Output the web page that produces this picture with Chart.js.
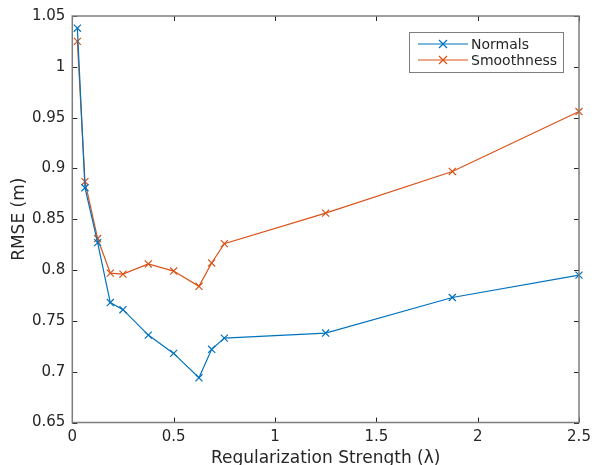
<!DOCTYPE html>
<html>
<head>
<meta charset="utf-8">
<script src="https://cdn.jsdelivr.net/npm/chart.js@4"></script>
<style>
  body { margin: 0; background: #fff; }
  #my_chart { display: block; }
</style>
</head>
<body>
<canvas id="my_chart" width="595" height="465"></canvas>
<script>
// regularization strengths
var lambda_values = [0.025, 0.0625, 0.125, 0.1875, 0.25, 0.375, 0.5, 0.625, 0.6875, 0.75, 1.25, 1.875, 2.5]
var normals_rmse = [1.038, 0.881, 0.827, 0.768, 0.761, 0.736, 0.718, 0.694, 0.722, 0.733, 0.738, 0.773, 0.795]
var smoothness_rmse = [1.025, 0.887, 0.831, 0.797, 0.796, 0.806, 0.799, 0.784, 0.807, 0.826, 0.856, 0.897, 0.956]
var series_labels = ['Normals', 'Smoothness']
var x_ticks = [0, 0.5, 1, 1.5, 2, 2.5]
var y_ticks = [0.65, 0.7, 0.75, 0.8, 0.85, 0.9, 0.95, 1, 1.05]

const BLUE = '#0072BD'
const ORANGE = '#D95319'
const FONT = "'DejaVu Sans', sans-serif"

function toPoints(xs, ys) {
  return xs.map((x, i) => ({x: x, y: ys[i]}))
}

function fmt(v) {
  return String(+v.toFixed(2))
}

// draws marker "x"
function drawCross(c, x, y, r) {
  c.beginPath()
  c.moveTo(x - r, y - r); c.lineTo(x + r, y + r)
  c.moveTo(x - r, y + r); c.lineTo(x + r, y - r)
  c.stroke()
}

// matlab-like box, inward ticks and legend
const matlabAxes = {
  id: 'matlabAxes',
  afterDraw(chart) {
    const c = chart.ctx
    const a = chart.chartArea
    const xs = chart.scales.x, ys = chart.scales.y
    const tl = 5
    c.save()
    c.strokeStyle = '#262626'
    c.lineWidth = 1
    x_ticks.forEach(v => {
      const px = Math.round(xs.getPixelForValue(v)) + 0.5
      c.beginPath()
      c.moveTo(px, a.bottom); c.lineTo(px, a.bottom - tl)
      c.moveTo(px, a.top); c.lineTo(px, a.top + tl)
      c.stroke()
    })
    y_ticks.forEach(v => {
      const py = Math.round(ys.getPixelForValue(v)) + 0.5
      c.beginPath()
      c.moveTo(a.left, py); c.lineTo(a.left + tl, py)
      c.moveTo(a.right, py); c.lineTo(a.right - tl, py)
      c.stroke()
    })
    c.strokeStyle = '#7d7d7d'
    c.lineWidth = 1.5
    c.strokeRect(a.left, a.top, a.right - a.left, a.bottom - a.top)

    // legend
    const lx = 409, ly = 32, lw = 154, lh = 40
    c.fillStyle = '#fff'
    c.fillRect(lx, ly, lw, lh)
    c.strokeStyle = '#7d7d7d'
    c.lineWidth = 1
    c.strokeRect(lx + 0.5, ly + 0.5, lw, lh)
    c.font = '14px ' + FONT
    c.textBaseline = 'middle'
    c.textAlign = 'left'
    chart.data.datasets.forEach((ds, i) => {
      const yy = ly + 12 + i * 16
      c.strokeStyle = ds.borderColor
      c.lineWidth = 1.2
      c.beginPath()
      c.moveTo(lx + 9, yy); c.lineTo(lx + 59, yy)
      c.stroke()
      drawCross(c, lx + 34, yy, 4)
      c.fillStyle = '#262626'
      c.fillText(ds.label, lx + 62, yy + 1)
    })
    c.restore()
  }
}

ctx = document.getElementById('my_chart').getContext('2d')
my_chart = new Chart(ctx, {
  type: 'scatter',
  data: {
    datasets: [
      {
        label: series_labels[0],
        data: toPoints(lambda_values, normals_rmse),
        borderColor: BLUE,
        backgroundColor: BLUE,
        showLine: true,
        borderWidth: 1.2,
        pointStyle: 'crossRot',
        pointRadius: 5,
        pointBorderWidth: 1.2,
        clip: false
      },
      {
        label: series_labels[1],
        data: toPoints(lambda_values, smoothness_rmse),
        borderColor: ORANGE,
        backgroundColor: ORANGE,
        showLine: true,
        borderWidth: 1.2,
        pointStyle: 'crossRot',
        pointRadius: 5,
        pointBorderWidth: 1.2,
        clip: false
      }
    ]
  },
  options: {
    responsive: false,
    animation: false,
    layout: {
      padding: {left: 0, right: 16, top: 16, bottom: 0}
    },
    plugins: {
      legend: {display: false},
      tooltip: {enabled: false}
    },
    scales: {
      x: {
        type: 'linear',
        min: 0,
        max: 2.5,
        afterFit: s => { s.height = 42.5; s.paddingLeft = 0; s.paddingRight = 0 },
        afterBuildTicks: s => { s.ticks = x_ticks.map(v => ({value: v})) },
        grid: {display: false, drawTicks: false},
        border: {display: false},
        ticks: {
          padding: 6,
          color: '#262626',
          font: {family: FONT, size: 15},
          maxRotation: 0,
          callback: v => fmt(v)
        },
        title: {
          display: true,
          text: 'Regularization Strength (λ)',
          color: '#262626',
          font: {family: FONT, size: 17},
          padding: {top: 0, bottom: -4}
        }
      },
      y: {
        type: 'linear',
        min: 0.65,
        max: 1.05,
        afterFit: s => { s.width = 72.3; s.paddingTop = 0; s.paddingBottom = 0 },
        afterBuildTicks: s => { s.ticks = y_ticks.map(v => ({value: v})) },
        grid: {display: false, drawTicks: false},
        border: {display: false},
        ticks: {
          padding: 7,
          color: '#262626',
          font: {family: FONT, size: 15},
          callback: v => fmt(v)
        },
        title: {
          display: true,
          text: 'RMSE (m)',
          color: '#262626',
          font: {family: FONT, size: 17},
          padding: {top: 9, bottom: 0}
        }
      }
    }
  },
  plugins: [matlabAxes]
})
</script>
</body>
</html>
